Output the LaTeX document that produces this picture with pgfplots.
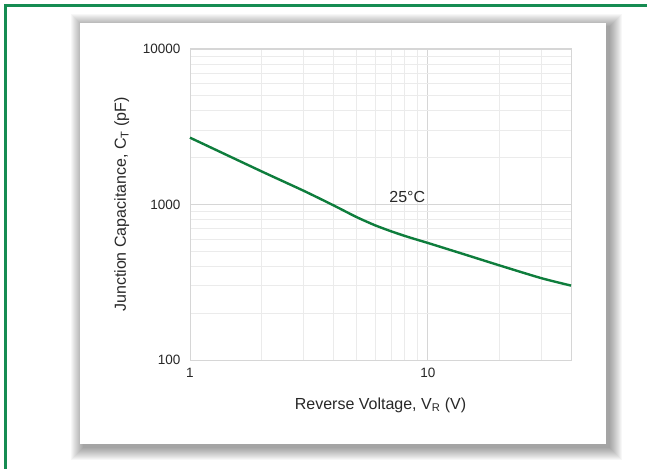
\documentclass[border=0pt]{standalone}
\usepackage{fontspec}
\setmainfont{Liberation Sans}
\usepackage{pgfplots}
\pgfplotsset{compat=1.18}
\definecolor{bordergreen}{RGB}{22,140,82}
\definecolor{curvegreen}{RGB}{14,125,60}
\definecolor{txt}{RGB}{40,40,40}
\begin{document}
\begin{tikzpicture}
\useasboundingbox (0pt,0pt) rectangle (647pt,-468pt);
\fill[white] (0pt,0pt) rectangle (647pt,-468pt);
% green frame (top and left only visible)
\draw[bordergreen, line width=3pt] (5pt,-470pt) -- (5pt,-6pt) -- (650pt,-6pt);
% panel shadow
\foreach \r in {12,11,...,0} {
  \fill[black, opacity=0.03] (83pt-\r pt,-26pt+\r pt) rectangle (610pt+\r pt,-448pt-\r pt);
}
\fill[white] (80pt,-23pt) rectangle (606pt,-444pt);
\begin{axis}[
  at={(190pt,-360pt)}, anchor=south west,
  scale only axis, width=381pt, height=311pt,
  xmode=log, ymode=log,
  xmin=1, xmax=40, ymin=100, ymax=10000,
  xtick={1,10}, xticklabels={1,10},
  ytick={100,1000,10000}, yticklabels={100,1000,10000},
  minor xtick={2,3,4,5,6,7,8,9,20,30},
  minor ytick={200,300,400,500,600,700,800,900,2000,3000,4000,5000,6000,7000,8000,9000},
  grid=both,
  major grid style={draw=black!16, line width=0.8pt},
  minor grid style={draw=black!8, line width=0.8pt},
  axis line style={draw=black!16, line width=1pt},
  major tick length=0pt, minor tick length=0pt,
  tick label style={font=\fontsize{13.5}{15}\selectfont, text=txt},
  /pgf/number format/assume math mode=true,
  xticklabel style={yshift=-5pt},
  yticklabel style={xshift=-6pt},
  xlabel={Reverse Voltage, V\textsubscript{R} (V)},
  ylabel={Junction Capacitance, C\textsubscript{T} (pF)},
  label style={font=\fontsize{16}{19}\selectfont, text=txt},
  xlabel style={at={(axis description cs:0.5,-0.145)}, anchor=center},
  ylabel style={at={(axis description cs:-0.179,0.5)}, anchor=center},
  clip=false,
]
\addplot[curvegreen, line width=2.4pt, smooth, tension=0.4] coordinates {
  (1,2690) (2,1633) (3,1227) (4,990) (5,832) (6,735) (7,673) (8,628)
  (9,594) (10,566) (14,482) (20,406) (30,336) (40,301)
};
\node[font=\fontsize{16}{19}\selectfont, text=txt] at (axis cs:8.2,1120) {25°C};
\end{axis}
\end{tikzpicture}
\end{document}
